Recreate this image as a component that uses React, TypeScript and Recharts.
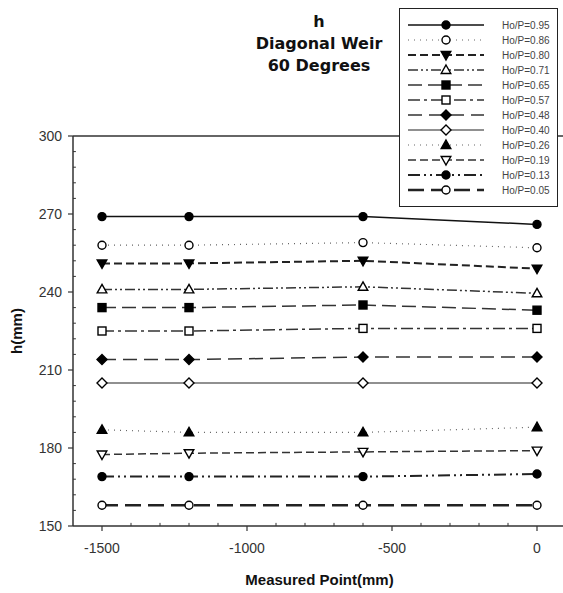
import { LineChart, Line, XAxis, YAxis, ReferenceLine, Legend } from "recharts";

const measuredPoints = [-1500, -1200, -600, 0];

const s095 = [269, 269, 269, 266];
const s086 = [258, 258, 259, 257];
const s080 = [251, 251, 252, 249];
const s071 = [241, 241, 242, 239.5];
const s065 = [234, 234, 235, 233];
const s057 = [225, 225, 226, 226];
const s048 = [214, 214, 215, 215];
const s040 = [205, 205, 205, 205];
const s026 = [187, 186, 186, 188];
const s019 = [177.5, 178, 178.5, 179];
const s013 = [169, 169, 169, 170];
const s005 = [158, 158, 158, 158];

const xTicks = [-1500, -1000, -500, 0];
const xMinorTicks = [-1400, -1300, -1200, -1100, -900, -800, -700, -600, -400, -300, -200, -100];
const yTicks = [150, 180, 210, 240, 270, 300];
const yMinorTicks = [156, 162, 168, 174, 186, 192, 198, 204, 216, 222, 228, 234, 246, 252, 258, 264, 276, 282, 288, 294];

const X_MIN = -1600;
const X_MAX = 100;
const Y_MIN = 150;
const Y_MAX = 300;

type Shape = "circle" | "triUp" | "triDown" | "square" | "diamond";

const SERIES: {
  key: string;
  name: string;
  values: number[];
  shape: Shape;
  filled: boolean;
  dash: string;
  width: number;
  color: string;
}[] = [
  { key: "a", name: "Ho/P=0.95", values: s095, shape: "circle", filled: true, dash: "", width: 1.5, color: "#111" },
  { key: "b", name: "Ho/P=0.86", values: s086, shape: "circle", filled: false, dash: "1 5", width: 1.2, color: "#666" },
  { key: "c", name: "Ho/P=0.80", values: s080, shape: "triDown", filled: true, dash: "8 4", width: 2, color: "#222" },
  { key: "d", name: "Ho/P=0.71", values: s071, shape: "triUp", filled: false, dash: "10 3 2 3 2 3", width: 1.5, color: "#333" },
  { key: "e", name: "Ho/P=0.65", values: s065, shape: "square", filled: true, dash: "14 6", width: 1.5, color: "#333" },
  { key: "f", name: "Ho/P=0.57", values: s057, shape: "square", filled: false, dash: "12 4 3 4", width: 1.5, color: "#333" },
  { key: "g", name: "Ho/P=0.48", values: s048, shape: "diamond", filled: true, dash: "14 7", width: 1.5, color: "#333" },
  { key: "h", name: "Ho/P=0.40", values: s040, shape: "diamond", filled: false, dash: "", width: 1.2, color: "#222" },
  { key: "i", name: "Ho/P=0.26", values: s026, shape: "triUp", filled: true, dash: "1 5", width: 1.2, color: "#666" },
  { key: "j", name: "Ho/P=0.19", values: s019, shape: "triDown", filled: false, dash: "8 4", width: 1.5, color: "#333" },
  { key: "k", name: "Ho/P=0.13", values: s013, shape: "circle", filled: true, dash: "12 4 2 4 2 4", width: 2, color: "#222" },
  { key: "l", name: "Ho/P=0.05", values: s005, shape: "circle", filled: false, dash: "16 7", width: 2.5, color: "#222" },
];

const data = measuredPoints.map((x, i) => {
  const row: Record<string, number> = { x };
  SERIES.forEach((s) => {
    row[s.key] = s.values[i];
  });
  return row;
});

function marker(shape: Shape, filled: boolean, cx: number, cy: number, key?: string) {
  const fill = filled ? "#000" : "#fff";
  const common = { key, fill, stroke: "#000", strokeWidth: 1.4 };
  switch (shape) {
    case "circle":
      return <circle {...common} cx={cx} cy={cy} r={4} />;
    case "square":
      return <rect {...common} x={cx - 4} y={cy - 4} width={8} height={8} />;
    case "diamond":
      return <polygon {...common} points={`${cx},${cy - 5} ${cx + 5},${cy} ${cx},${cy + 5} ${cx - 5},${cy}`} />;
    case "triUp":
      return <polygon {...common} points={`${cx},${cy - 5} ${cx + 4.8},${cy + 3.5} ${cx - 4.8},${cy + 3.5}`} />;
    case "triDown":
      return <polygon {...common} points={`${cx},${cy + 5} ${cx + 4.8},${cy - 3.5} ${cx - 4.8},${cy - 3.5}`} />;
  }
}

function LegendBox() {
  return (
    <div style={{ border: "1px solid #222", background: "#fff", width: 157, height: 197 }}>
      <svg width={157} height={197}>
        {SERIES.map((s, i) => {
          const y = 16 + i * 15;
          return (
            <g key={s.key}>
              <line x1={8} x2={84} y1={y} y2={y} stroke={s.color} strokeWidth={s.width} strokeDasharray={s.dash || undefined} />
              {marker(s.shape, s.filled, 46, y)}
              <text x={102} y={y + 3.5} fontSize={10} fill="#444" fontFamily="Liberation Sans, Arial, sans-serif">
                {s.name}
              </text>
            </g>
          );
        })}
      </svg>
    </div>
  );
}

const tickStyle = { fontSize: 14, fill: "#333", fontFamily: "Liberation Sans, Arial, sans-serif" };

export default function App() {
  return (
    <div style={{ position: "absolute", left: 0, top: 0, width: 563, height: 593, overflow: "hidden", background: "#fff" }}>
      <div
        style={{
          position: "absolute",
          left: 219,
          top: 11,
          width: 200,
          textAlign: "center",
          fontFamily: "DejaVu Sans, sans-serif",
          fontWeight: "bold",
          fontSize: 16,
          lineHeight: "22px",
          color: "#111",
          zIndex: 2,
        }}
      >
        <div>h</div>
        <div>Diagonal Weir</div>
        <div>60 Degrees</div>
      </div>
      <LineChart width={570} height={593} data={data} margin={{ top: 136, right: 4, bottom: 7, left: 13 }}>
        <ReferenceLine y={Y_MAX} stroke="#333" strokeWidth={1.5} />
        {/* minor ticks, pointing inward */}
        {xMinorTicks.map((t) => (
          <ReferenceLine
            key={`mx${t}`}
            segment={[{ x: t, y: Y_MIN }, { x: t, y: Y_MIN + 1.2 }]}
            stroke="#333"
            strokeWidth={1}
          />
        ))}
        {yMinorTicks.map((t) => (
          <ReferenceLine
            key={`my${t}`}
            segment={[{ x: X_MIN, y: t }, { x: X_MIN + 10, y: t }]}
            stroke="#333"
            strokeWidth={1}
          />
        ))}
        <XAxis
          type="number"
          dataKey="x"
          domain={[X_MIN, X_MAX]}
          ticks={xTicks}
          interval={0}
          height={60}
          tickSize={5}
          tickMargin={12}
          tick={tickStyle}
          axisLine={{ stroke: "#333", strokeWidth: 1.5 }}
          tickLine={{ stroke: "#333", strokeWidth: 1.2 }}
          label={{
            value: "Measured Point(mm)",
            position: "insideBottom",
            offset: 1,
            style: { fontSize: 15, fontWeight: "bold", fill: "#111", fontFamily: "Liberation Sans, Arial, sans-serif" },
          }}
        />
        <YAxis
          type="number"
          domain={[Y_MIN, Y_MAX]}
          ticks={yTicks}
          interval={0}
          width={60}
          tickSize={5}
          tickMargin={6}
          tick={tickStyle}
          axisLine={{ stroke: "#333", strokeWidth: 1.5 }}
          tickLine={{ stroke: "#333", strokeWidth: 1.2 }}
          label={{
            value: "h(mm)",
            angle: -90,
            position: "insideLeft",
            offset: 4,
            style: { fontSize: 15, fontWeight: "bold", fill: "#111", fontFamily: "Liberation Sans, Arial, sans-serif", textAnchor: "middle" },
          }}
        />
        {SERIES.map((s) => (
          <Line
            key={s.key}
            dataKey={s.key}
            name={s.name}
            type="linear"
            stroke={s.color}
            strokeWidth={s.width}
            strokeDasharray={s.dash || undefined}
            isAnimationActive={false}
            dot={(p: any) => marker(s.shape, s.filled, p.cx, p.cy, `${s.key}-${p.index}`)}
            activeDot={false}
          />
        ))}
        <Legend
          layout="horizontal"
          verticalAlign="middle"
          align="center"
          content={() => <LegendBox />}
          wrapperStyle={{ position: "absolute", top: 8, left: 399, width: 159, height: 199 }}
        />
      </LineChart>
    </div>
  );
}
